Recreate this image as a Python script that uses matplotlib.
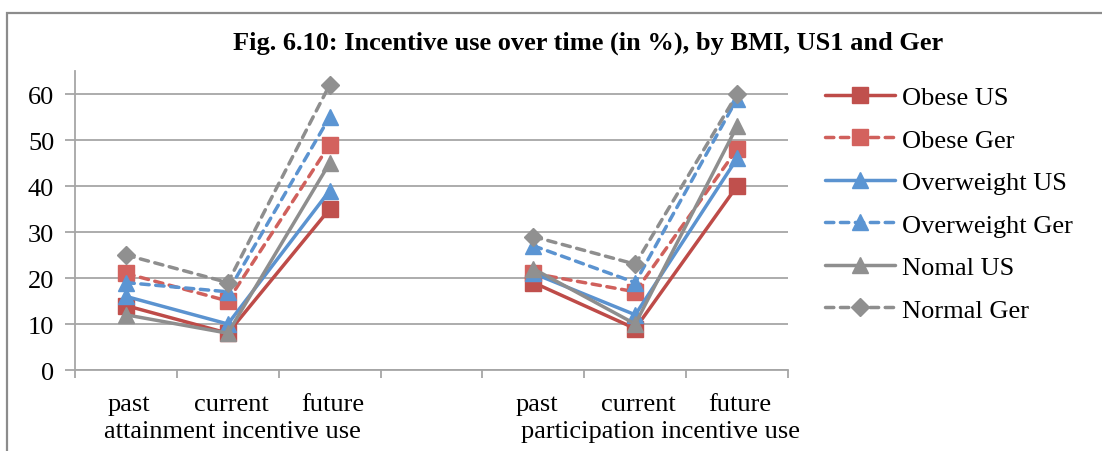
import matplotlib.pyplot as plt
import matplotlib.patches as mpatches
import numpy as np

plt.rcParams["font.family"] = ["Liberation Serif", "DejaVu Serif"]

# Category slots: two groups of three, empty slot in between
categories = ["past", "current", "future", "", "past", "current", "future"]
group_labels = ["attainment incentive use", "participation incentive use"]

obese_us = [14, 8, 35, None, 19, 9, 40]
obese_ger = [21, 15, 49, None, 21, 17, 48]
overweight_us = [16, 10, 39, None, 21, 12, 46]
overweight_ger = [19, 17, 55, None, 27, 19, 59]
normal_us = [12, 8, 45, None, 22, 10, 53]
normal_ger = [25, 19, 62, None, 29, 23, 60]

series = [
    ("Obese US", obese_us, "#BE4B48", "#C0504D", "-", "s"),
    ("Obese Ger", obese_ger, "#D0605C", "#D3625E", "--", "s"),
    ("Overweight US", overweight_us, "#5B93D0", "#5B95D3", "-", "^"),
    ("Overweight Ger", overweight_ger, "#5B93D0", "#5B95D3", "--", "^"),
    ("Nomal US", normal_us, "#8E8E8E", "#909090", "-", "^"),
    ("Normal Ger", normal_ger, "#8E8E8E", "#909090", "--", "D"),
]

fig = plt.figure(figsize=(11.02, 4.52), dpi=100)
ax = fig.add_axes([0.0681, 0.1792, 0.647, 0.6615])

x = np.arange(len(categories))
for name, vals, lc, mc, ls, mk in series:
    y = np.array([np.nan if v is None else v for v in vals], dtype=float)
    ms = 9.5 if mk == "D" else 11
    line, = ax.plot(x, y, color=lc, linestyle=ls, linewidth=2.5, marker=mk,
                    markersize=ms, markerfacecolor=mc, markeredgecolor=mc,
                    label=name, solid_capstyle="round", dash_capstyle="round")
    if ls == "--":
        line.set_dashes((2.4, 1.9))

ax.set_xlim(-0.5, len(categories) - 0.5)
ax.set_ylim(0, 65)
ax.set_yticks(range(0, 61, 10))
ax.yaxis.grid(True, color="#A6A6A6", linewidth=1.3)
ax.set_axisbelow(True)

ax.set_xticks(np.arange(-0.5, len(categories), 1.0))
ax.set_xticklabels([])
ax.tick_params(axis="x", length=6, width=1.3, color="#A6A6A6")
ax.tick_params(axis="y", length=7, width=1.3, color="#A6A6A6",
               labelsize=19, pad=8)

for side in ["top", "right"]:
    ax.spines[side].set_visible(False)
for side in ["left", "bottom"]:
    ax.spines[side].set_color("#A6A6A6")
    ax.spines[side].set_linewidth(1.3)

# Category names and group captions below the axis
trans = ax.get_xaxis_transform()
for i, c in enumerate(categories):
    if c:
        ax.text(i + 0.03, -0.113, c, transform=trans, ha="center", va="center",
                fontsize=19)
ax.text(1.05, -0.205, group_labels[0], transform=trans, ha="center",
        va="center", fontsize=19)
ax.text(5.25, -0.205, group_labels[1], transform=trans, ha="center",
        va="center", fontsize=19)

fig.text(0.534, 0.905, "Fig. 6.10: Incentive use over time (in %), by BMI, US1 and Ger",
         ha="center", va="center", fontsize=19, fontweight="bold")

ax.legend(loc="upper left", bbox_to_anchor=(0.749, 0.808),
          bbox_transform=fig.transFigure, frameon=False, fontsize=19,
          handlelength=2.65, handletextpad=0.25, labelspacing=0.72,
          borderpad=0, borderaxespad=0, markerscale=1.0)

# Chart area border
fig.patches.append(mpatches.Rectangle((7 / 1102, -0.1), 1.2, 1.1 - 14 / 452,
                                      transform=fig.transFigure, fill=False,
                                      edgecolor="#8C8C8C", linewidth=1.6))

fig.savefig("out.png", dpi=100)
